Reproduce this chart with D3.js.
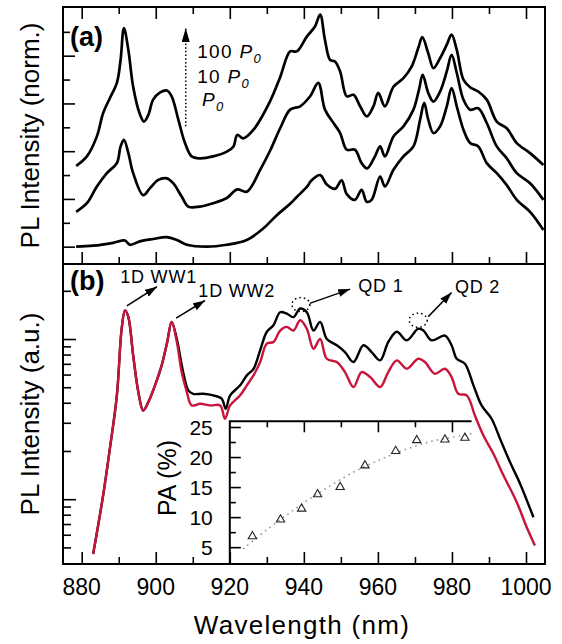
<!DOCTYPE html>
<html>
<head>
<meta charset="utf-8">
<script src="https://cdn.jsdelivr.net/npm/d3@7"></script>
<style>
  body { margin: 0; background: #fff; }
  svg { display: block; font-family: "Liberation Sans", Arial, Helvetica, sans-serif; }
</style>
</head>
<body>
<svg id="chart" width="562" height="644"></svg>
<script>
// (a) normalised PL spectra, offset, [wavelength nm, intensity]
var spec100 = [[878.5,1.69],[881.4,1.89],[884.1,2.31],[885.8,2.80],[887.6,3.11],[889.5,3.43],[890.5,3.91],[891.4,4.58],[892.6,4.12],[893.9,3.35],[895.6,2.80],[896.8,2.62],[898.0,2.76],[899.3,3.08],[901.2,3.23],[903.0,3.27],[904.3,3.15],[906.1,2.66],[907.9,2.17],[909.7,1.89],[912.0,1.85],[915.5,1.89],[919.2,1.99],[921.0,2.10],[922.0,2.34],[923.7,2.27],[926.4,2.45],[930.9,3.05],[933.6,3.55],[936.3,4.09],[938.1,4.09],[940.8,4.40],[943.0,4.61],[944.4,4.86],[945.7,4.33],[947.1,3.91],[948.4,3.88],[949.8,3.67],[951.6,3.15],[953.4,3.18],[955.2,2.94],[957.0,2.73],[958.8,2.94],[960.1,3.22],[961.9,2.94],[964.2,3.35],[966.9,3.53],[969.1,3.77],[970.9,4.16],[972.0,4.39],[973.6,4.05],[975.0,3.74],[976.8,3.95],[978.6,4.23],[979.9,4.44],[981.3,4.12],[983.1,3.50],[984.9,3.34],[987.1,3.25],[989.4,3.08],[992.1,2.62],[994.8,2.48],[997.5,2.17],[1001.1,1.96],[1004.7,1.71]];
var spec10 = [[878.5,0.73],[881.4,0.91],[884.1,1.26],[886.8,1.54],[889.5,1.75],[890.5,2.10],[891.4,2.24],[892.6,1.96],[893.9,1.54],[896.6,1.08],[898.4,1.22],[900.7,1.40],[903.0,1.43],[904.7,1.33],[907.0,1.05],[908.8,0.84],[911.9,0.84],[915.5,0.91],[919.2,1.02],[922.0,1.20],[924.6,1.15],[928.2,1.61],[931.0,2.03],[933.6,2.48],[936.3,2.87],[939.0,2.94],[941.7,3.15],[943.9,3.43],[945.7,2.87],[948.0,2.59],[949.8,2.38],[951.6,2.03],[953.8,2.03],[955.6,1.75],[957.1,1.64],[959.2,1.89],[960.6,2.10],[961.9,1.89],[964.2,2.31],[966.9,2.52],[969.6,2.87],[971.1,3.29],[972.1,3.60],[973.6,3.22],[975.0,3.04],[976.8,3.25],[978.6,3.67],[979.9,4.02],[981.3,3.64],[983.1,3.08],[984.9,2.87],[987.1,2.90],[989.4,2.59],[992.1,2.10],[994.8,1.85],[997.5,1.54],[1001.1,1.33],[1004.7,0.98]];
var spec1 = [[878.5,0.00],[883.1,0.02],[888.5,0.08],[891.7,0.13],[893.0,0.04],[895.7,0.11],[899.3,0.16],[903.0,0.20],[905.7,0.14],[908.4,0.04],[913.8,0.00],[919.2,0.04],[924.6,0.14],[929.0,0.38],[932.7,0.66],[936.3,0.90],[938.1,1.04],[940.8,1.25],[942.1,1.39],[944.4,1.50],[946.2,1.30],[948.4,1.21],[950.2,1.39],[951.6,1.10],[953.8,0.98],[955.6,1.19],[957.0,0.94],[958.3,0.98],[960.6,1.47],[961.9,1.26],[964.2,1.61],[966.9,1.89],[969.6,2.10],[971.4,2.66],[972.5,3.01],[973.6,2.66],[975.0,2.38],[976.8,2.52],[978.6,2.94],[979.9,3.32],[981.3,2.94],[983.1,2.45],[984.9,2.17],[987.1,2.10],[989.4,1.75],[992.1,1.54],[994.8,1.29],[997.5,0.98],[1001.1,0.73],[1004.7,0.35]];
var powerLabels = ['100 ', '10 ', ''];

// (b) PL spectra, log scale
var specBlack = [[883.1,0.455],[885.8,1.06],[887.6,2.06],[889.5,4.45],[890.8,11.6],[891.7,15.1],[892.6,13.7],[893.9,7.91],[895.3,4.66],[896.6,3.58],[898.0,4.04],[899.8,5.14],[901.6,6.85],[903.1,9.58],[904.3,12.8],[905.7,10.0],[907.4,6.22],[908.8,4.78],[910.1,4.55],[912.8,4.55],[915.5,4.45],[917.8,4.24],[918.9,3.67],[920.1,4.45],[922.8,5.14],[924.6,5.93],[926.4,6.52],[928.2,8.50],[930.0,11.1],[931.8,12.2],[933.6,14.7],[935.4,14.4],[937.2,13.7],[939.0,15.5],[940.8,14.7],[942.6,11.3],[944.4,12.8],[946.2,10.0],[948.9,9.14],[951.1,8.29],[953.4,7.18],[956.1,9.14],[958.3,8.29],[960.6,7.36],[962.8,9.58],[965.1,11.1],[967.8,9.81],[970.9,11.6],[972.3,11.3],[974.5,9.81],[978.1,10.5],[979.9,9.14],[981.3,7.53],[983.5,7.01],[985.8,5.14],[988.0,3.85],[990.7,3.18],[993.0,2.38],[995.7,1.70],[998.4,1.25],[1002.0,0.772]];
var specRed = [[883.1,0.455],[885.8,1.06],[887.6,2.06],[889.5,4.45],[890.8,11.6],[891.7,15.1],[892.6,13.7],[893.9,7.91],[895.3,4.66],[896.6,3.58],[898.0,4.04],[899.8,5.14],[901.6,6.85],[903.1,9.58],[904.3,12.8],[905.7,9.58],[907.0,6.22],[908.4,4.66],[909.7,3.85],[912.0,3.94],[914.7,3.85],[917.4,3.85],[918.7,3.18],[920.1,3.85],[922.8,4.45],[924.6,5.14],[926.4,5.93],[928.2,7.18],[930.0,9.35],[931.8,9.58],[933.6,11.3],[935.4,11.9],[937.2,11.3],[939.0,13.1],[940.8,11.6],[942.6,8.70],[944.4,10.0],[946.2,7.53],[948.9,7.18],[951.1,6.22],[953.4,5.01],[955.6,6.22],[957.9,5.79],[960.6,5.01],[962.8,6.22],[965.1,7.36],[967.8,6.52],[970.9,7.53],[972.7,7.18],[975.4,6.07],[978.1,6.52],[979.9,5.79],[981.7,4.55],[984.0,4.45],[986.2,3.33],[988.5,2.50],[991.2,1.92],[993.9,1.41],[997.5,0.958],[1000.2,0.668],[1002.4,0.514]];

// inset: polarisation anisotropy
var paPoints = [[926.1,6.8],[933.7,9.6],[939.4,11.4],[943.7,13.8],[949.8,15.0],[956.5,18.6],[964.8,21.0],[970.5,22.8],[978.1,22.9],[983.5,23.2]];
var paFit = [[923.6,4.7],[930,7.9],[935,10.2],[940,12.4],[945,14.4],[950,16.3],[955,18.0],[960,19.4],[965,20.7],[970,21.8],[975,22.7],[980,23.3],[985.3,23.9]];

var xTicks = [880, 900, 920, 940, 960, 980, 1000];
var xMinor = [890, 910, 930, 950, 970, 990];
var insetTicks = [5, 10, 15, 20, 25];
var insetMinor = [7.5, 12.5, 17.5, 22.5];

// peak annotations in (b): text, label anchor, arrow from -> to
var peakNames = ['1D WW1', '1D WW2', 'QD 1', 'QD 2'];
var peakLabelAt = [[890.4, 22.4], [911.5, 18.3], [954.7, 19.7], [980.8, 19.4]];
var peakArrows = [[[892.2,16.1],[900.3,21.2]], [[905.5,13.5],[913.3,17.4]], [[941.6,16.7],[952.5,20.5]], [[973.6,13.8],[979.9,19.5]]];
var qdCircles = [[939.2,16.4], [970.9,13.1]];

var frame = {left: 63, right: 545, top: 7, mid: 264, bottom: 564};
var insetTop = 421.3;
var red = '#c8143c';

var svg = d3.select('#chart');

var x = d3.scaleLinear().domain([874.95, 1005.13]).range([frame.left, frame.right]);
var yA = d3.scaleLinear().domain([-0.363, 5.02]).range([frame.mid, frame.top]);
var yB = d3.scaleLog().domain([0.394, 29.4]).range([frame.bottom, frame.mid]);
var yIn = d3.scaleLinear().domain([2.2, 25.95]).range([frame.bottom, insetTop]);

var defs = svg.append('defs');
defs.append('marker').attr('id', 'head')
  .attr('markerUnits', 'userSpaceOnUse')
  .attr('markerWidth', 12).attr('markerHeight', 8)
  .attr('refX', 12).attr('refY', 4).attr('orient', 'auto')
  .append('path').attr('d', 'M0,0 L12,4 L0,8 Z').attr('fill', '#000');
defs.append('marker').attr('id', 'headA')
  .attr('markerUnits', 'userSpaceOnUse')
  .attr('markerWidth', 14).attr('markerHeight', 8)
  .attr('refX', 14).attr('refY', 4).attr('orient', 'auto')
  .append('path').attr('d', 'M0,0 L14,4 L0,8 Z').attr('fill', '#000');

function ticks(axis, transform, values, size) {
  svg.append('g').attr('transform', transform)
    .call(axis.tickValues(values).tickSize(size).tickFormat(''))
    .call(g => g.select('.domain').remove())
    .selectAll('line').attr('stroke', '#000').attr('stroke-width', 1.6);
}

// ---- panel (a)
var lineA = d3.line().curve(d3.curveCatmullRom.alpha(0.5))
  .x(d => x(d[0])).y(d => yA(d[1]));
[spec1, spec10, spec100].forEach(function (s) {
  svg.append('path').attr('d', lineA(s))
    .attr('fill', 'none').attr('stroke', '#000')
    .attr('stroke-width', 2.7).attr('stroke-linejoin', 'round');
});

ticks(d3.axisLeft(yA), `translate(${frame.left},0)`, [0, 1, 2, 3, 4], -12);
ticks(d3.axisLeft(yA), `translate(${frame.left},0)`, [0.5, 1.5, 2.5, 3.5, 4.5], -7);
ticks(d3.axisTop(x), `translate(0,${frame.top})`, xTicks, -12);
ticks(d3.axisTop(x), `translate(0,${frame.top})`, xMinor, -7);
ticks(d3.axisBottom(x), `translate(0,${frame.mid})`, xTicks, -12);
ticks(d3.axisBottom(x), `translate(0,${frame.mid})`, xMinor, -7);

// power arrow and labels
svg.append('line')
  .attr('x1', x(908.1)).attr('x2', x(908.1))
  .attr('y1', yA(2.52)).attr('y2', yA(4.58))
  .attr('stroke', '#000').attr('stroke-width', 1.5)
  .attr('stroke-dasharray', '1.5,2.2')
  .attr('marker-end', 'url(#headA)');

var powerPos = [[911.2, 3.95], [911.2, 3.43], [912.5, 2.94]];
powerLabels.forEach(function (p, i) {
  var t = svg.append('text')
    .attr('x', x(powerPos[i][0])).attr('y', yA(powerPos[i][1]))
    .attr('font-size', 19).attr('letter-spacing', 1.3);
  t.append('tspan').text(p);
  t.append('tspan').attr('font-style', 'italic').text('P');
  t.append('tspan').attr('font-style', 'italic').attr('font-size', 13).attr('dy', 5).text('0');
});

svg.append('text').attr('x', 70).attr('y', 46)
  .attr('font-size', 27).attr('font-weight', 'bold').text('(a)');

// ---- panel (b)
var lineB = d3.line().curve(d3.curveCatmullRom.alpha(0.5))
  .x(d => x(d[0])).y(d => yB(d[1]));
svg.append('path').attr('d', lineB(specBlack))
  .attr('fill', 'none').attr('stroke', '#000')
  .attr('stroke-width', 2.4).attr('stroke-linejoin', 'round');
svg.append('path').attr('d', lineB(specRed))
  .attr('fill', 'none').attr('stroke', red)
  .attr('stroke-width', 2.4).attr('stroke-linejoin', 'round');

ticks(d3.axisLeft(yB), `translate(${frame.left},0)`, [1, 10], -13);
ticks(d3.axisLeft(yB), `translate(${frame.left},0)`, [0.5, 0.6, 0.7, 0.8, 0.9, 2, 3, 4, 5, 6, 7, 8, 9, 20], -8);
ticks(d3.axisBottom(x), `translate(0,${frame.bottom})`, xTicks, -12);
ticks(d3.axisBottom(x), `translate(0,${frame.bottom})`, xMinor, -7);

svg.append('g').selectAll('text').data(xTicks).join('text')
  .attr('x', d => x(d)).attr('y', 595)
  .attr('text-anchor', 'middle').attr('font-size', 23)
  .text(d => d);

svg.append('text').attr('x', 70).attr('y', 290)
  .attr('font-size', 27).attr('font-weight', 'bold').text('(b)');

peakNames.forEach(function (name, i) {
  svg.append('text')
    .attr('x', x(peakLabelAt[i][0])).attr('y', yB(peakLabelAt[i][1]))
    .attr('font-size', 18).attr('letter-spacing', 0.8).text(name);
  var a = peakArrows[i];
  svg.append('line')
    .attr('x1', x(a[0][0])).attr('y1', yB(a[0][1]))
    .attr('x2', x(a[1][0])).attr('y2', yB(a[1][1]))
    .attr('stroke', '#000').attr('stroke-width', 1.5)
    .attr('marker-end', 'url(#head)');
});

svg.append('g').selectAll('ellipse').data(qdCircles).join('ellipse')
  .attr('cx', d => x(d[0])).attr('cy', d => yB(d[1]))
  .attr('rx', 9).attr('ry', 7)
  .attr('fill', 'none').attr('stroke', '#000')
  .attr('stroke-width', 1.5).attr('stroke-dasharray', '1.5,3');

// ---- inset
var inset = svg.append('g');
inset.append('path')
  .attr('d', `M${x(985.3)},${insetTop} H${x(920)} V${frame.bottom}`)
  .attr('fill', 'none').attr('stroke', '#000').attr('stroke-width', 2);

ticks(d3.axisLeft(yIn), `translate(${x(920)},0)`, insetTicks, -11);
ticks(d3.axisLeft(yIn), `translate(${x(920)},0)`, insetMinor, -6);
ticks(d3.axisTop(x), `translate(0,${insetTop})`, [940, 960, 980], -11);
ticks(d3.axisTop(x), `translate(0,${insetTop})`, [930, 950, 970], -6);

inset.selectAll('text.tl').data(insetTicks).join('text')
  .attr('class', 'tl')
  .attr('x', x(920) - 17).attr('y', d => yIn(d))
  .attr('dy', '0.36em').attr('text-anchor', 'end')
  .attr('font-size', 21).text(d => d);

inset.append('path')
  .attr('d', d3.line().curve(d3.curveCatmullRom).x(d => x(d[0])).y(d => yIn(d[1]))(paFit))
  .attr('fill', 'none').attr('stroke', '#9a9a9a')
  .attr('stroke-width', 1.6).attr('stroke-dasharray', '1.6,4');

inset.selectAll('path.pt').data(paPoints).join('path')
  .attr('class', 'pt')
  .attr('transform', d => `translate(${x(d[0])},${yIn(d[1])})`)
  .attr('d', d3.symbol(d3.symbolTriangle, 30))
  .attr('fill', 'none').attr('stroke', '#222').attr('stroke-width', 1.1);

inset.append('text')
  .attr('transform', 'translate(167,478) rotate(-90)')
  .attr('text-anchor', 'middle').attr('dy', '0.35em')
  .attr('font-size', 25).text('PA (%)');

// ---- frames and titles
svg.append('rect').attr('x', frame.left).attr('y', frame.top)
  .attr('width', frame.right - frame.left).attr('height', frame.mid - frame.top)
  .attr('fill', 'none').attr('stroke', '#000').attr('stroke-width', 2);
svg.append('rect').attr('x', frame.left).attr('y', frame.mid)
  .attr('width', frame.right - frame.left).attr('height', frame.bottom - frame.mid)
  .attr('fill', 'none').attr('stroke', '#000').attr('stroke-width', 2);

svg.append('text')
  .attr('transform', `translate(30,${(frame.top + frame.mid) / 2}) rotate(-90)`)
  .attr('text-anchor', 'middle').attr('dy', '0.35em')
  .attr('font-size', 26).text('PL Intensity (norm.)');
svg.append('text')
  .attr('transform', `translate(30,${(frame.mid + frame.bottom) / 2}) rotate(-90)`)
  .attr('text-anchor', 'middle').attr('dy', '0.35em')
  .attr('font-size', 26).text('PL Intensity (a.u.)');
svg.append('text')
  .attr('x', (frame.left + frame.right) / 2 - 2).attr('y', 634)
  .attr('text-anchor', 'middle').attr('font-size', 26).attr('letter-spacing', 1.3)
  .text('Wavelength (nm)');
</script>
</body>
</html>
